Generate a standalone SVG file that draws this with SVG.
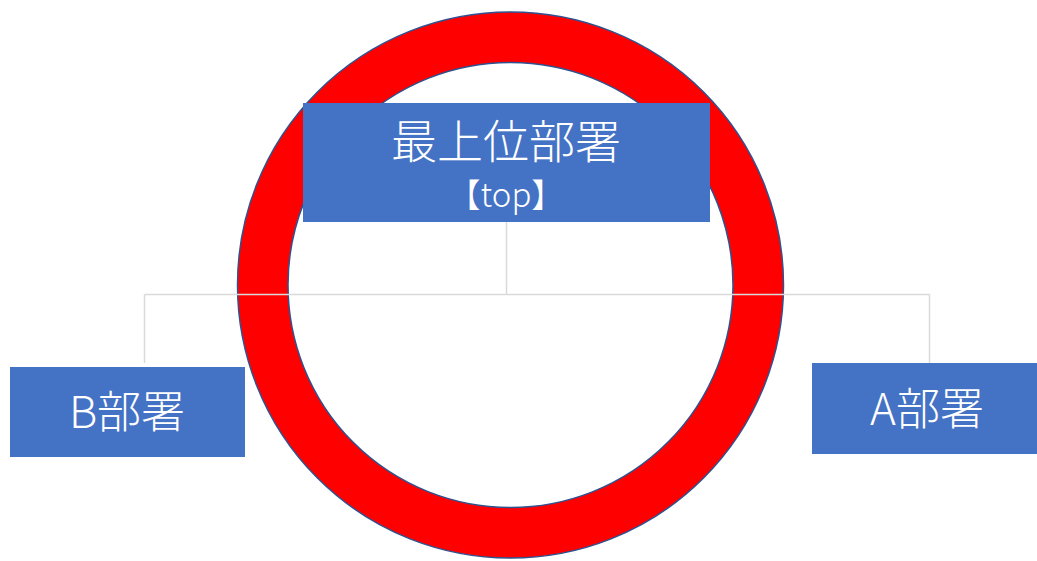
<svg xmlns="http://www.w3.org/2000/svg" width="1037" height="561" viewBox="0 0 1037 561">
<style>
.node{fill:#4472C4}
.lbl{fill:#FFFFFF;font-family:"Noto Sans CJK JP","Noto Sans",sans-serif;font-weight:300;text-anchor:middle}
.conn{stroke:#D9D9D9;stroke-width:1.5;fill:none}
</style>
<rect width="1037" height="561" fill="#FFFFFF"/>
<g id="ring">
<path d="M237.5,285 a273,273 0 1,0 546,0 a273,273 0 1,0 -546,0 Z M288,285 a222.5,222.5 0 1,0 445,0 a222.5,222.5 0 1,0 -445,0 Z" fill="#FF0000" fill-rule="evenodd" stroke="#2F528F" stroke-width="1.5"/>
</g>
<g id="connectors">
<path class="conn" d="M506.5,222 V294.5 M144.5,294.5 H929.5 M144.5,294.5 V363 M929.5,294.5 V363"/>
</g>
<g id="top">
<rect class="node" x="303" y="103" width="407" height="119"/>
<text class="lbl" x="506" y="158" font-size="46">最上位部署</text>
<text class="lbl" x="506" y="207" font-size="33" font-weight="400">【top】</text>
</g>
<g id="b">
<rect class="node" x="10" y="367" width="235" height="90"/>
<text class="lbl" x="127" y="428" font-size="44">B部署</text>
</g>
<g id="a">
<rect class="node" x="812" y="363" width="225" height="91"/>
<text class="lbl" x="927" y="425" font-size="44">A部署</text>
</g>
</svg>
